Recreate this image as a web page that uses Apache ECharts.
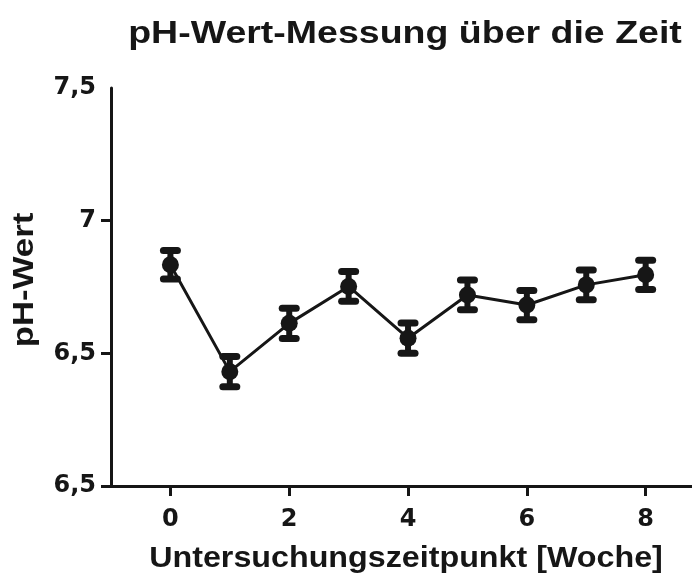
<!DOCTYPE html>
<html>
<head>
<meta charset="utf-8">
<script src="https://cdn.jsdelivr.net/npm/echarts@6/dist/echarts.min.js"></script>
<style>
  html, body { margin: 0; padding: 0; background: #fff; }
  #chart { width: 692px; height: 583px; }
</style>
</head>
<body>
<div id="chart"></div>
<script>
// Messwerte (Mittelwert und Fehler) je Woche
const weeks = [0, 1, 2, 3, 4, 5, 6, 7, 8];
const phMean = [6.834, 6.431, 6.613, 6.752, 6.557, 6.72, 6.682, 6.758, 6.796];
const phErr = [0.054, 0.057, 0.057, 0.056, 0.057, 0.056, 0.055, 0.056, 0.055];
const xTicks = [0, 2, 4, 6, 8];
const yTickValues = [6, 6.5, 7, 7.5];
const yTickLabels = ["6,5", "6,5", "7", "7,5"];

const titleText = "pH-Wert-Messung über die Zeit";
const xName = "Untersuchungszeitpunkt [Woche]";
const yName = "pH-Wert";

const ink = "#161616";
const labelFont = "DejaVu Sans";
const nameFont = "Liberation Sans";

let myChart = echarts.init(document.getElementById("chart"));

let option = {
  backgroundColor: "#fff",
  animation: false,
  grid: { left: 111, right: 0, top: 88, bottom: 97 },
  xAxis: {
    type: "value",
    min: -1,
    max: 8.78,
    splitLine: { show: false },
    axisLine: { onZero: false, lineStyle: { color: ink, width: 3 } },
    axisTick: {
      customValues: xTicks,
      length: 10,
      lineStyle: { color: ink, width: 3 }
    },
    axisLabel: {
      customValues: xTicks,
      margin: 22,
      color: ink,
      fontFamily: labelFont,
      fontWeight: "bold",
      fontSize: 24
    }
  },
  yAxis: {
    type: "value",
    min: 6,
    max: 7.5,
    splitLine: { show: false },
    axisLine: { show: true, onZero: false, lineStyle: { color: ink, width: 3 } },
    axisTick: {
      customValues: [6, 6.5, 7],
      length: 10,
      lineStyle: { color: ink, width: 3 }
    },
    axisLabel: {
      customValues: yTickValues,
      margin: 15,
      color: ink,
      fontFamily: labelFont,
      fontWeight: "bold",
      fontSize: 24,
      formatter: value => {
        let i = yTickValues.findIndex(v => Math.abs(v - value) < 1e-6);
        return i >= 0 ? yTickLabels[i] : "";
      }
    }
  },
  graphic: [
    {
      type: "text",
      x: 405,
      y: 34,
      scaleX: 1.21,
      style: {
        text: titleText,
        font: "bold 31px " + nameFont,
        fill: ink,
        align: "center",
        verticalAlign: "middle",
        textAlign: "center",
        textVerticalAlign: "middle"
      }
    },
    {
      type: "text",
      x: 406,
      y: 559,
      scaleX: 1.075,
      style: {
        text: xName,
        font: "bold 30px " + nameFont,
        fill: ink,
        align: "center",
        verticalAlign: "middle",
        textAlign: "center",
        textVerticalAlign: "middle"
      }
    },
    {
      type: "text",
      x: 25,
      y: 280,
      rotation: Math.PI / 2,
      scaleX: 1.16,
      style: {
        text: yName,
        font: "bold 30px " + nameFont,
        fill: ink,
        align: "center",
        verticalAlign: "middle",
        textAlign: "center",
        textVerticalAlign: "middle"
      }
    }
  ],
  series: [
    {
      // Fehlerbalken
      type: "custom",
      data: weeks.map((w, i) => [w, phMean[i], phErr[i]]),
      encode: { x: 0, y: 1 },
      z: 3,
      renderItem: (params, api) => {
        let x = api.value(0);
        let m = api.value(1);
        let e = api.value(2);
        let top = api.coord([x, m + e]);
        let bot = api.coord([x, m - e]);
        let hw = 7;
        let capStyle = { stroke: ink, lineWidth: 7, lineCap: "round" };
        return {
          type: "group",
          children: [
            {
              type: "line",
              shape: { x1: top[0], y1: top[1], x2: bot[0], y2: bot[1] },
              style: { stroke: ink, lineWidth: 6 }
            },
            {
              type: "line",
              shape: { x1: top[0] - hw, y1: top[1], x2: top[0] + hw, y2: top[1] },
              style: capStyle
            },
            {
              type: "line",
              shape: { x1: bot[0] - hw, y1: bot[1], x2: bot[0] + hw, y2: bot[1] },
              style: capStyle
            }
          ]
        };
      }
    },
    {
      type: "line",
      data: weeks.map((w, i) => [w, phMean[i]]),
      symbol: "circle",
      symbolSize: 17,
      z: 4,
      lineStyle: { color: ink, width: 3 },
      itemStyle: { color: ink }
    }
  ]
};

myChart.setOption(option);
</script>
</body>
</html>
